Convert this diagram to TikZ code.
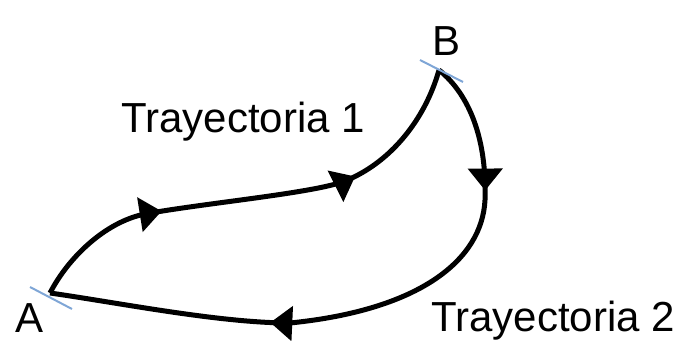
\documentclass[tikz,border=0pt]{standalone}
\usepackage{fontspec}
\setmainfont{Liberation Sans}
\usepackage{tikz}
\usetikzlibrary{arrows.meta,decorations.markings}
\definecolor{tickblue}{HTML}{7FA6D6}

\begin{document}
\begin{tikzpicture}[x=0.5pt,y=-0.5pt,
    trayecto/.style={line width=2.5pt,black},
    flecha/.style={postaction={decorate,decoration={markings,
        mark=at position #1 with {\arrow{Triangle[length=11pt,width=17pt]}}}}},
    marca/.style={tickblue,line width=1pt},
    lbl/.style={inner sep=0pt,anchor=base west,font=\fontsize{21}{25}\selectfont}]
    \useasboundingbox (0,0) rectangle (679,341);

    \coordinate (A) at (50,293);
    \coordinate (B) at (439,70);

    % Trayectoria 1: A -> B
    \draw[trayecto,flecha=0.30,flecha=0.71] (A)
         .. controls (68,258) and (105,222) .. (145,214)
         .. controls (205,203) and (315,193) .. (345,181)
         .. controls (390,163) and (425,120) .. (B);

    % Trayectoria 2: B -> A
    \draw[trayecto,flecha=0.21,flecha=0.65] (B)
         .. controls (470,95) and (487,140) .. (485,200)
         .. controls (482,260) and (420,310) .. (290,323)
         .. controls (220,323) and (120,303) .. (A);

    \draw[marca] (A) +(-20,-6) -- +(22,16);
    \draw[marca] (B) +(-19,-10) -- +(24,12);

    \node[lbl] (labA) at (15,333) {A};
    \node[lbl] (labB) at (432,56) {B};
    \node[lbl] (tray1) at (121,133) {Trayectoria 1};
    \node[lbl] (tray2) at (431,332) {Trayectoria 2};
\end{tikzpicture}
\end{document}
